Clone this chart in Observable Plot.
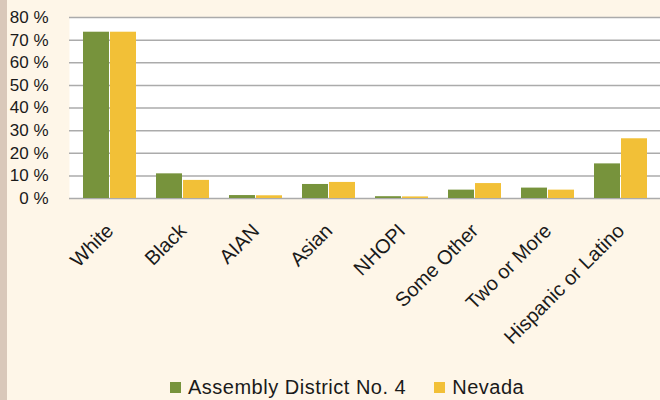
<!DOCTYPE html>
<html>
<head>
<meta charset="utf-8">
<script src="https://cdn.jsdelivr.net/npm/d3@7"></script>
<script src="https://cdn.jsdelivr.net/npm/@observablehq/plot@0.6"></script>
<style>
  html, body { margin: 0; padding: 0; background: #fef6e8; width: 660px; height: 400px; overflow: hidden; }
  #strip { position: absolute; left: 0; top: 0; width: 7px; height: 400px; background: #d9c8ba; }
  #chart { position: absolute; left: 0; top: 0; }
  #legend { position: absolute; left: 170px; top: 376px; display: flex; align-items: center;
            font-family: "Liberation Sans", Arial, sans-serif; font-size: 20px; letter-spacing: 0.5px; color: #1a1a1a; }
  .sw { width: 11px; height: 11px; display: inline-block; margin-right: 7px; }
  .item { display: flex; align-items: center; }
</style>
</head>
<body>
<div id="strip"></div>
<div id="chart"></div>
<div id="legend"></div>
<script>
const categories = ["White", "Black", "AIAN", "Asian", "NHOPI", "Some Other", "Two or More", "Hispanic or Latino"];
const district = [73.5, 10.9, 1.3, 6.2, 0.8, 3.7, 4.6, 15.3];
const nevada = [73.5, 8.0, 1.2, 7.1, 0.7, 6.6, 3.7, 26.4];
const seriesNames = ["Assembly District No. 4", "Nevada"];
const seriesColors = ["#77933c", "#f2c037"];
const yTicks = [0, 10, 20, 30, 40, 50, 60, 70, 80];

const districtRows = categories.map((c, i) => ({category: c, value: district[i]}));
const nevadaRows = categories.map((c, i) => ({category: c, value: nevada[i]}));

const chart = Plot.plot({
  width: 660,
  height: 370,
  marginLeft: 69,
  marginRight: 0,
  marginTop: 17,
  marginBottom: 172,
  style: {background: "transparent", fontFamily: "'Liberation Sans', Arial, sans-serif", color: "#1a1a1a"},
  x: {domain: categories, padding: 0, label: null},
  y: {domain: [0, 80], label: null},
  marks: [
    Plot.frame({fill: "white", stroke: null}),
    Plot.ruleY(yTicks, {stroke: "#ababab", strokeWidth: 1.5}),
    Plot.barY(districtRows, {x: "category", y: "value", fill: seriesColors[0], insetLeft: 10, insetRight: 37}),
    Plot.barY(nevadaRows, {x: "category", y: "value", fill: seriesColors[1], insetLeft: 37, insetRight: 10}),
    Plot.axisY({ticks: yTicks, tickFormat: d => d + " %", tickSize: 0, tickPadding: 21, fontSize: 17, label: null}),
    Plot.axisX({tickRotate: -45, tickSize: 0, tickPadding: 29, fontSize: 20, label: null})
  ]
});
document.getElementById("chart").appendChild(chart);

const legend = document.getElementById("legend");
seriesNames.forEach((name, i) => {
  const item = document.createElement("span");
  item.className = "item";
  if (i > 0) item.style.marginLeft = "28px";
  const sw = document.createElement("span");
  sw.className = "sw";
  sw.style.background = seriesColors[i];
  item.appendChild(sw);
  item.appendChild(document.createTextNode(name));
  legend.appendChild(item);
});
</script>
</body>
</html>
